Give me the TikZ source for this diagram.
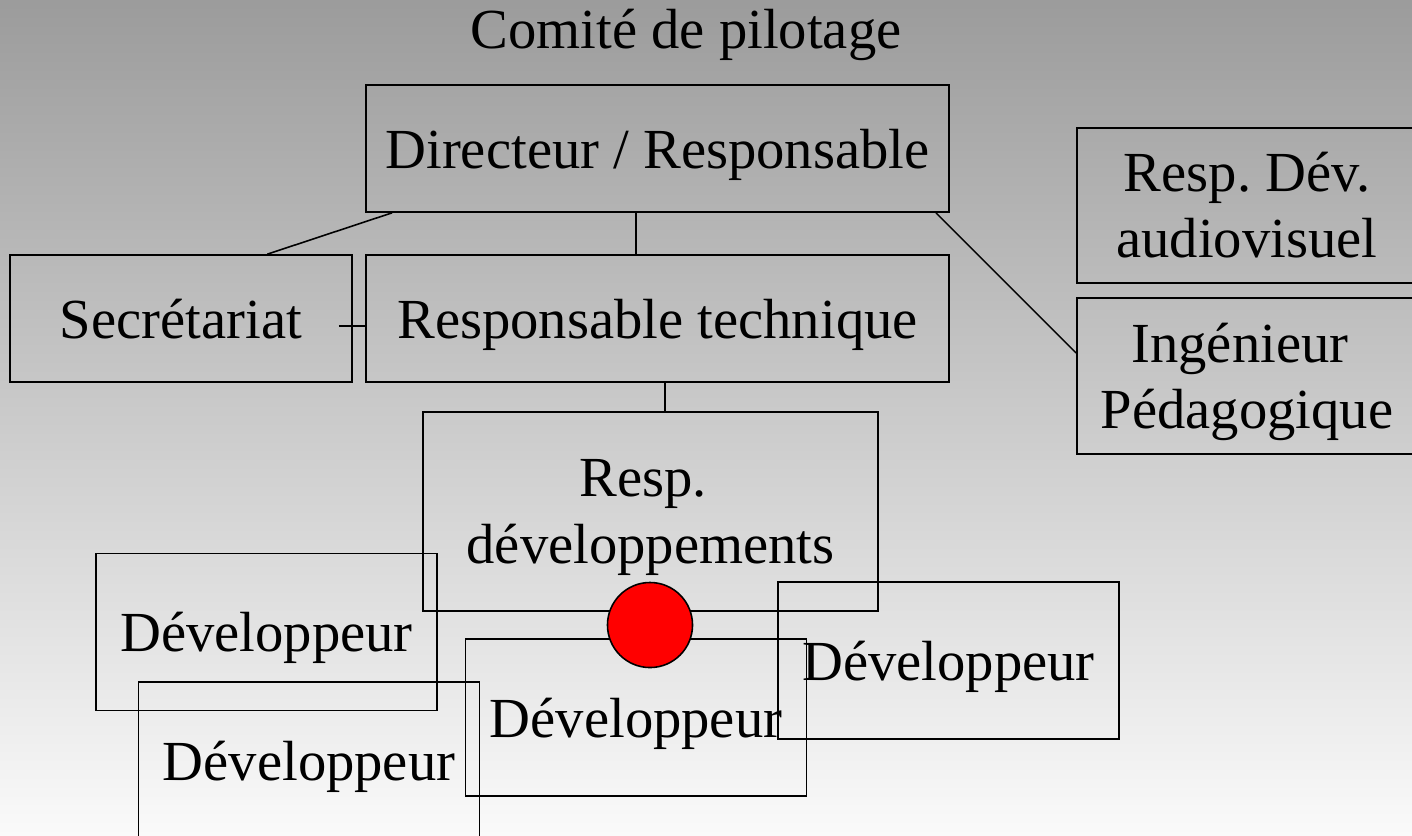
\documentclass[tikz,border=0pt]{standalone}
\usepackage{fontspec}
\setmainfont{Liberation Serif}
\usepackage{tikz}

\definecolor{bgtop}{gray}{0.61}
\definecolor{bgmid}{gray}{0.85}
\definecolor{bgbot}{gray}{0.98}

\frenchspacing

\begin{document}
\begin{tikzpicture}[x=0.01cm, y=-0.01cm,
		font=\fontsize{16.1}{18.8}\selectfont,
		poste/.style={draw, line width=0.45pt, inner sep=0pt, align=center},
		poste1/.style={poste, text depth=0pt}]
			\def\W{3.41cm};
			\def\H{1.57cm};

			\useasboundingbox (0,0) rectangle (1412,835);
			\shade[top color=bgtop, middle color=bgmid, bottom color=bgbot] (0,0) rectangle (1412,835);

			\node (comite) [anchor=base] at (686,48) {Comité de pilotage};

			\node (dir) [poste1, minimum width=5.83cm, minimum height=1.27cm] at (657.5,148.5) {Directeur / Responsable};
			\node (sec) [poste1, minimum width=3.42cm, minimum height=1.27cm] at (181,318.5) {Secrétariat};
			\node (tech) [poste1, minimum width=5.83cm, minimum height=1.27cm] at (657.5,318.5) {Responsable technique};
			\node (aud) [poste, minimum width=3.40cm, minimum height=1.55cm] at (1247,205.5) {Resp. Dév.\\audiovisuel};
			\node (ing) [poste, minimum width=3.40cm, minimum height=1.56cm] at (1247,376)
				{Ingénieur\kern.25em\\\raisebox{0pt}[\height][0pt]{Pédagogique}};
			\node (rdev) [poste, minimum width=4.55cm, minimum height=1.99cm] at (650.5,511.5)
				{Resp.\kern.25em\\\raisebox{0pt}[\height][0pt]{développements}};

			\node (dev1) [poste1, minimum width=\W, minimum height=\H] at (266.5,632) {Développeur};
			\node (dev2) [poste1, minimum width=\W, minimum height=1.58cm] at (309,761) {Développeur};
			\node (dev3) [poste1, minimum width=\W, minimum height=\H] at (636,717.5) {Développeur};
			\node (dev4) [poste1, minimum width=\W, minimum height=\H] at (948.5,660.5) {Développeur};

			\node (point) [circle, draw, line width=0.45pt, fill=red, minimum size=0.85cm, inner sep=0pt] at (650,625) {};

			\begin{scope}[line width=0.45pt]
				\draw ([xshift=.27cm]dir.south west) -- ([xshift=2.58cm]sec.north west);
				\draw ([xshift=-.215cm]dir.south) -- ([xshift=-.215cm]tech.north);
				\draw ([xshift=-.14cm]dir.south east) -- ([yshift=.23cm]ing.west);
				\draw ([xshift=-.14cm,yshift=-.075cm]sec.east) -- ([yshift=-.075cm]tech.west);
				\draw ([xshift=.075cm]tech.south) -- ([xshift=.145cm]rdev.north);
			\end{scope}
		\end{tikzpicture}
\end{document}
